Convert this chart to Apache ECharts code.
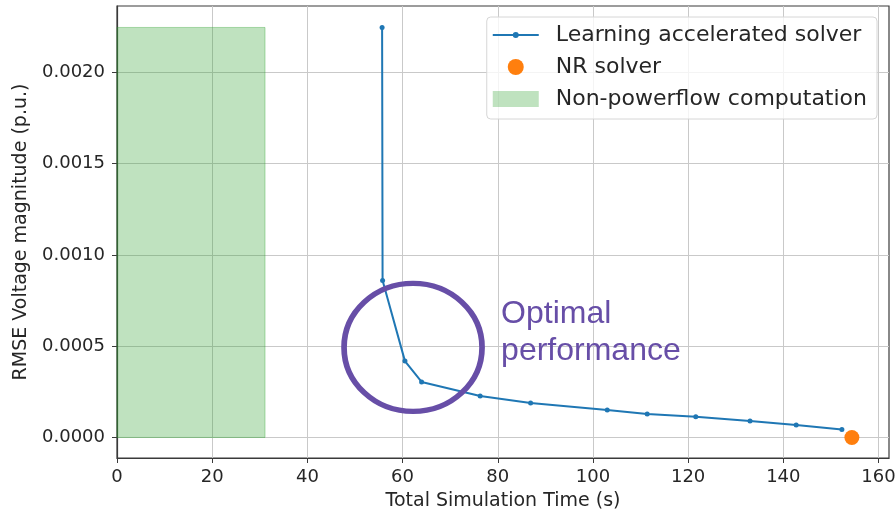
<!DOCTYPE html>
<html>
<head>
<meta charset="utf-8">
<script src="https://cdn.jsdelivr.net/npm/echarts@6/dist/echarts.min.js"></script>
<style>
html,body{margin:0;padding:0;background:#fff;}
#chart{width:895px;height:511px;}
</style>
</head>
<body>
<div id="chart"></div>
<script>
// ---- data ----
const xTicks = [0, 20, 40, 60, 80, 100, 120, 140, 160];
const yTicks = [0, 0.0005, 0.0010, 0.0015, 0.0020];
const learnTime = [55.7, 55.8, 60.5, 64.0, 76.3, 86.9, 103.0, 111.4, 121.6, 133.0, 142.7, 152.3];
const learnRmse = [0.002245, 0.000860, 0.000418, 0.000304, 0.000227, 0.000189, 0.000150, 0.000128, 0.000114, 0.000090, 0.000068, 0.000043];
const nrTime = [154.4];
const nrRmse = [0.0];
const spanTime = [0, 31.1];
const spanRmse = [0, 0.002245];
const noteCircleAt = [62.2, 0.000493];
const noteTextAt = [80.6, 0.000575];
const noteText = 'Optimal\nperformance';
const seriesNames = ['Learning accelerated solver', 'NR solver', 'Non-powerflow computation'];

const xMin = 0, xMax = 162.2, yMin = -0.0001125, yMax = 0.0023625;

const font = 'DejaVu Sans';
const txt = '#262626';
const spine = '#3a3a3a';
const gridColor = '#c9c9c9';
const green = 'rgba(44,160,44,0.3)';
const blue = '#1f77b4';
const purple = '#674ea7';

// legend glyph: a line with a small dot (bbox corners pinned to 46x16)
const lineIcon = 'path://M0,0 Z M46,16 Z M0,7 L20.2,7 L20.2,9 L0,9 Z M25.8,7 L46,7 L46,9 L25.8,9 Z ' +
                 'M20,8 A3,3 0 1 1 26,8 A3,3 0 1 1 20,8 Z';

const chart = echarts.init(document.getElementById('chart'), null, {renderer: 'canvas'});
chart.setOption({
  animation: false,
  backgroundColor: '#ffffff',
  grid: {left: 117, right: 6, top: 6, bottom: 53, containLabel: false, outerBoundsMode: 'none',
         show: true, borderColor: spine, borderWidth: 1.2, backgroundColor: 'transparent'},
  legend: {
    orient: 'vertical',
    right: 18, top: 17,
    itemWidth: 46, itemHeight: 16, itemGap: 10,
    padding: [7, 10, 9, 6],
    backgroundColor: 'rgba(255,255,255,0.8)',
    borderColor: '#d6d6d6', borderWidth: 1, borderRadius: 4,
    textStyle: {fontFamily: font, fontSize: 22, color: txt, padding: [0, 0, 0, 12]},
    data: [
      {name: seriesNames[0], icon: lineIcon, itemStyle: {color: blue}},
      {name: seriesNames[1], icon: 'circle', itemStyle: {color: '#ff7f0e', opacity: 1}},
      {name: seriesNames[2], icon: 'rect', itemStyle: {color: green}}
    ],
    selectedMode: false
  },
  xAxis: {
    type: 'value', min: xMin, max: xMax, interval: 20,
    name: 'Total Simulation Time (s)', nameLocation: 'middle', nameGap: 34,
    nameTextStyle: {fontFamily: font, fontSize: 19, color: txt},
    axisLine: {show: true, onZero: false, lineStyle: {color: spine, width: 1.2}},
    axisTick: {show: true, length: 5, inside: false, customValues: xTicks, lineStyle: {color: spine, width: 1}},
    axisLabel: {fontFamily: font, fontSize: 18, color: txt, margin: 10, customValues: xTicks, formatter: v => String(v)},
    splitLine: {show: true, lineStyle: {color: gridColor, width: 1}}
  },
  yAxis: {
    type: 'value', min: yMin, max: yMax, splitNumber: 5, minInterval: 0.0005, maxInterval: 0.0005,
    name: 'RMSE Voltage magnitude (p.u.)', nameLocation: 'middle', nameGap: 86, nameRotate: 90,
    nameTextStyle: {fontFamily: font, fontSize: 19, color: txt},
    axisLine: {show: true, onZero: false, lineStyle: {color: spine, width: 1.2}},
    axisTick: {show: true, length: 5, inside: false, customValues: yTicks, lineStyle: {color: spine, width: 1}},
    axisLabel: {fontFamily: font, fontSize: 18, color: txt, margin: 12, customValues: yTicks, formatter: v => v.toFixed(4)},
    splitLine: {show: true, lineStyle: {color: gridColor, width: 1}}
  },
  series: [
    {
      name: seriesNames[2], type: 'custom', z: 1,
      encode: {x: [0, 1], y: [2, 3]},
      data: [[spanTime[0], spanTime[1], spanRmse[0], spanRmse[1]]],
      renderItem: function (params, api) {
        const p0 = api.coord([api.value(0), api.value(2)]);
        const p1 = api.coord([api.value(1), api.value(3)]);
        return {type: 'rect', shape: {x: p0[0], y: p1[1], width: p1[0] - p0[0], height: p0[1] - p1[1]},
                style: {fill: green, stroke: 'rgba(44,160,44,0.35)', lineWidth: 1}};
      },
      itemStyle: {color: green},
      silent: true
    },
    {
      name: seriesNames[0], type: 'line', z: 3,
      data: learnTime.map((t, i) => [t, learnRmse[i]]),
      symbol: 'circle', symbolSize: 5, showSymbol: true,
      lineStyle: {color: blue, width: 2},
      itemStyle: {color: blue},
      silent: true
    },
    {
      name: seriesNames[1], type: 'scatter', z: 4,
      data: nrTime.map((t, i) => [t, nrRmse[i]]),
      symbol: 'circle', symbolSize: 15,
      itemStyle: {color: '#ff7f0e', opacity: 1},
      silent: true
    },
    {
      name: 'note-circle', type: 'scatter', z: 5,
      data: [noteCircleAt],
      symbol: 'circle', symbolSize: [138, 128],
      itemStyle: {color: 'rgba(0,0,0,0)', borderColor: purple, borderWidth: 5.5, opacity: 1},
      silent: true
    },
    {
      name: 'note-text', type: 'scatter', z: 5,
      data: [noteTextAt],
      symbol: 'circle', symbolSize: 1,
      itemStyle: {color: 'rgba(0,0,0,0)', opacity: 1},
      label: {show: true, position: 'right', distance: 0, formatter: noteText, opacity: 1,
              fontFamily: 'Liberation Sans', fontSize: 32, lineHeight: 37, color: purple, align: 'left'},
      silent: true
    }
  ]
});
</script>
</body>
</html>
